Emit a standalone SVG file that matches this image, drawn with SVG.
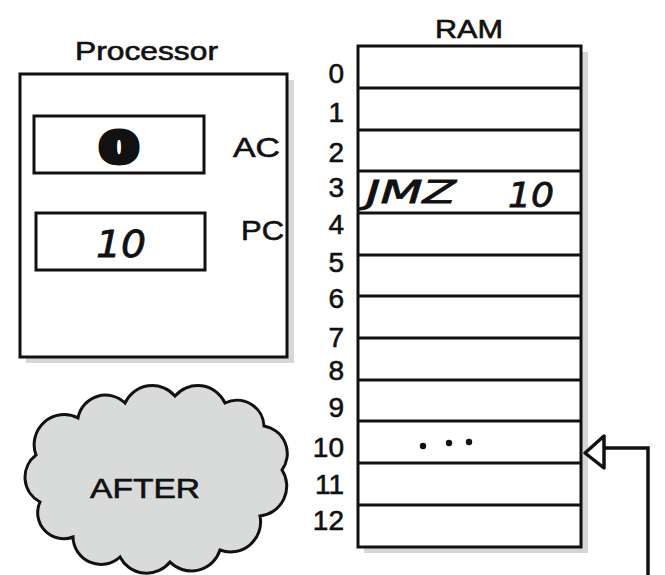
<svg xmlns="http://www.w3.org/2000/svg" width="665" height="575" viewBox="0 0 665 575">
<style>
.lbl{font-family:"Liberation Sans",Arial,sans-serif;fill:#111;stroke:#111;stroke-width:0.6}
.num{font-family:"Liberation Sans",Arial,sans-serif;font-size:28px;fill:#111;stroke:#111;stroke-width:0.6;text-anchor:end}
.box{fill:#fff;stroke:#111;stroke-width:3}
.shadow{fill:#d6d6d6}
.hand{font-family:"DejaVu Sans","Liberation Sans",sans-serif;font-style:italic;fill:#111;stroke:#111;stroke-width:0.8}
.wire{fill:none;stroke:#111;stroke-width:3.5}
</style>
<rect width="665" height="575" fill="#fff"/>
<g id="processor">
  <rect class="shadow" x="26" y="80" width="268" height="283"/>
  <rect class="box" x="20" y="74" width="267" height="283"/>
  <text class="lbl" x="75" y="60" font-size="26" textLength="143" lengthAdjust="spacingAndGlyphs">Processor</text>
</g>
<g id="ac">
  <rect class="box" x="34" y="116" width="170" height="57"/>
  <text class="hand" x="100" y="162" font-size="40" font-weight="bold" textLength="38" lengthAdjust="spacingAndGlyphs" style="font-style:normal;stroke-width:6;stroke-linejoin:round">0</text>
  <text class="lbl" x="233" y="157" font-size="27" textLength="47" lengthAdjust="spacingAndGlyphs">AC</text>
</g>
<g id="pc">
  <rect class="box" x="36" y="213" width="169" height="57"/>
  <text class="hand" x="96" y="257" font-size="38" textLength="50" lengthAdjust="spacingAndGlyphs">10</text>
  <text class="lbl" x="241" y="240" font-size="27" textLength="43" lengthAdjust="spacingAndGlyphs">PC</text>
</g>
<g id="ram">
  <rect class="shadow" x="364" y="52" width="224" height="501"/>
  <rect class="box" x="358" y="46" width="223" height="501"/>
  <g stroke="#111" stroke-width="3">
    <line x1="358" y1="88" x2="581" y2="88"/>
    <line x1="358" y1="130" x2="581" y2="130"/>
    <line x1="358" y1="171" x2="581" y2="171"/>
    <line x1="358" y1="213" x2="581" y2="213"/>
    <line x1="358" y1="255" x2="581" y2="255"/>
    <line x1="358" y1="296" x2="581" y2="296"/>
    <line x1="358" y1="338" x2="581" y2="338"/>
    <line x1="358" y1="380" x2="581" y2="380"/>
    <line x1="358" y1="421" x2="581" y2="421"/>
    <line x1="358" y1="463" x2="581" y2="463"/>
    <line x1="358" y1="505" x2="581" y2="505"/>
  </g>
  <text class="lbl" x="435" y="38" font-size="26" textLength="68" lengthAdjust="spacingAndGlyphs">RAM</text>
  <text class="num" x="344" y="83">0</text>
  <text class="num" x="344" y="122">1</text>
  <text class="num" x="344" y="162">2</text>
  <text class="num" x="344" y="197">3</text>
  <text class="num" x="344" y="234">4</text>
  <text class="num" x="344" y="272">5</text>
  <text class="num" x="344" y="308">6</text>
  <text class="num" x="344" y="347">7</text>
  <text class="num" x="344" y="380">8</text>
  <text class="num" x="344" y="417">9</text>
  <text class="num" x="344" y="457">10</text>
  <text class="num" x="344" y="494">11</text>
  <text class="num" x="344" y="530">12</text>
  <text class="hand" x="366" y="203" font-size="32" textLength="90" lengthAdjust="spacingAndGlyphs">JMZ</text>
  <text class="hand" x="508" y="207" font-size="34" textLength="46" lengthAdjust="spacingAndGlyphs">10</text>
  <g fill="#111">
    <circle cx="423" cy="446" r="3.2"/>
    <circle cx="449" cy="443" r="3.2"/>
    <circle cx="469" cy="442" r="3.2"/>
  </g>
</g>
<g id="after">
  <path d="M36 455 A30 30 0 0 1 78 418 A28 28 0 0 1 125 403 A30 30 0 0 1 175 396 A30 30 0 0 1 225 403 A27 27 0 0 1 264 426 A28 28 0 0 1 282 470 A30 30 0 0 1 260 516 A30 30 0 0 1 220 550 A30 30 0 0 1 170 562 A30 30 0 0 1 120 557 A28 28 0 0 1 73 537 A26 26 0 0 1 40 502 A28 28 0 0 1 36 455 Z" fill="#d9dbdb" stroke="#111" stroke-width="3"/>
  <text class="lbl" x="90" y="498" font-size="28" textLength="110" lengthAdjust="spacingAndGlyphs">AFTER</text>
</g>
<g id="connectors">
  <polyline class="wire" points="648,575 648,448 604,448"/>
  <polygon points="585,453 604,436 604,468" fill="#fff" stroke="#111" stroke-width="3.5" stroke-linejoin="round"/>
</g>
</svg>
